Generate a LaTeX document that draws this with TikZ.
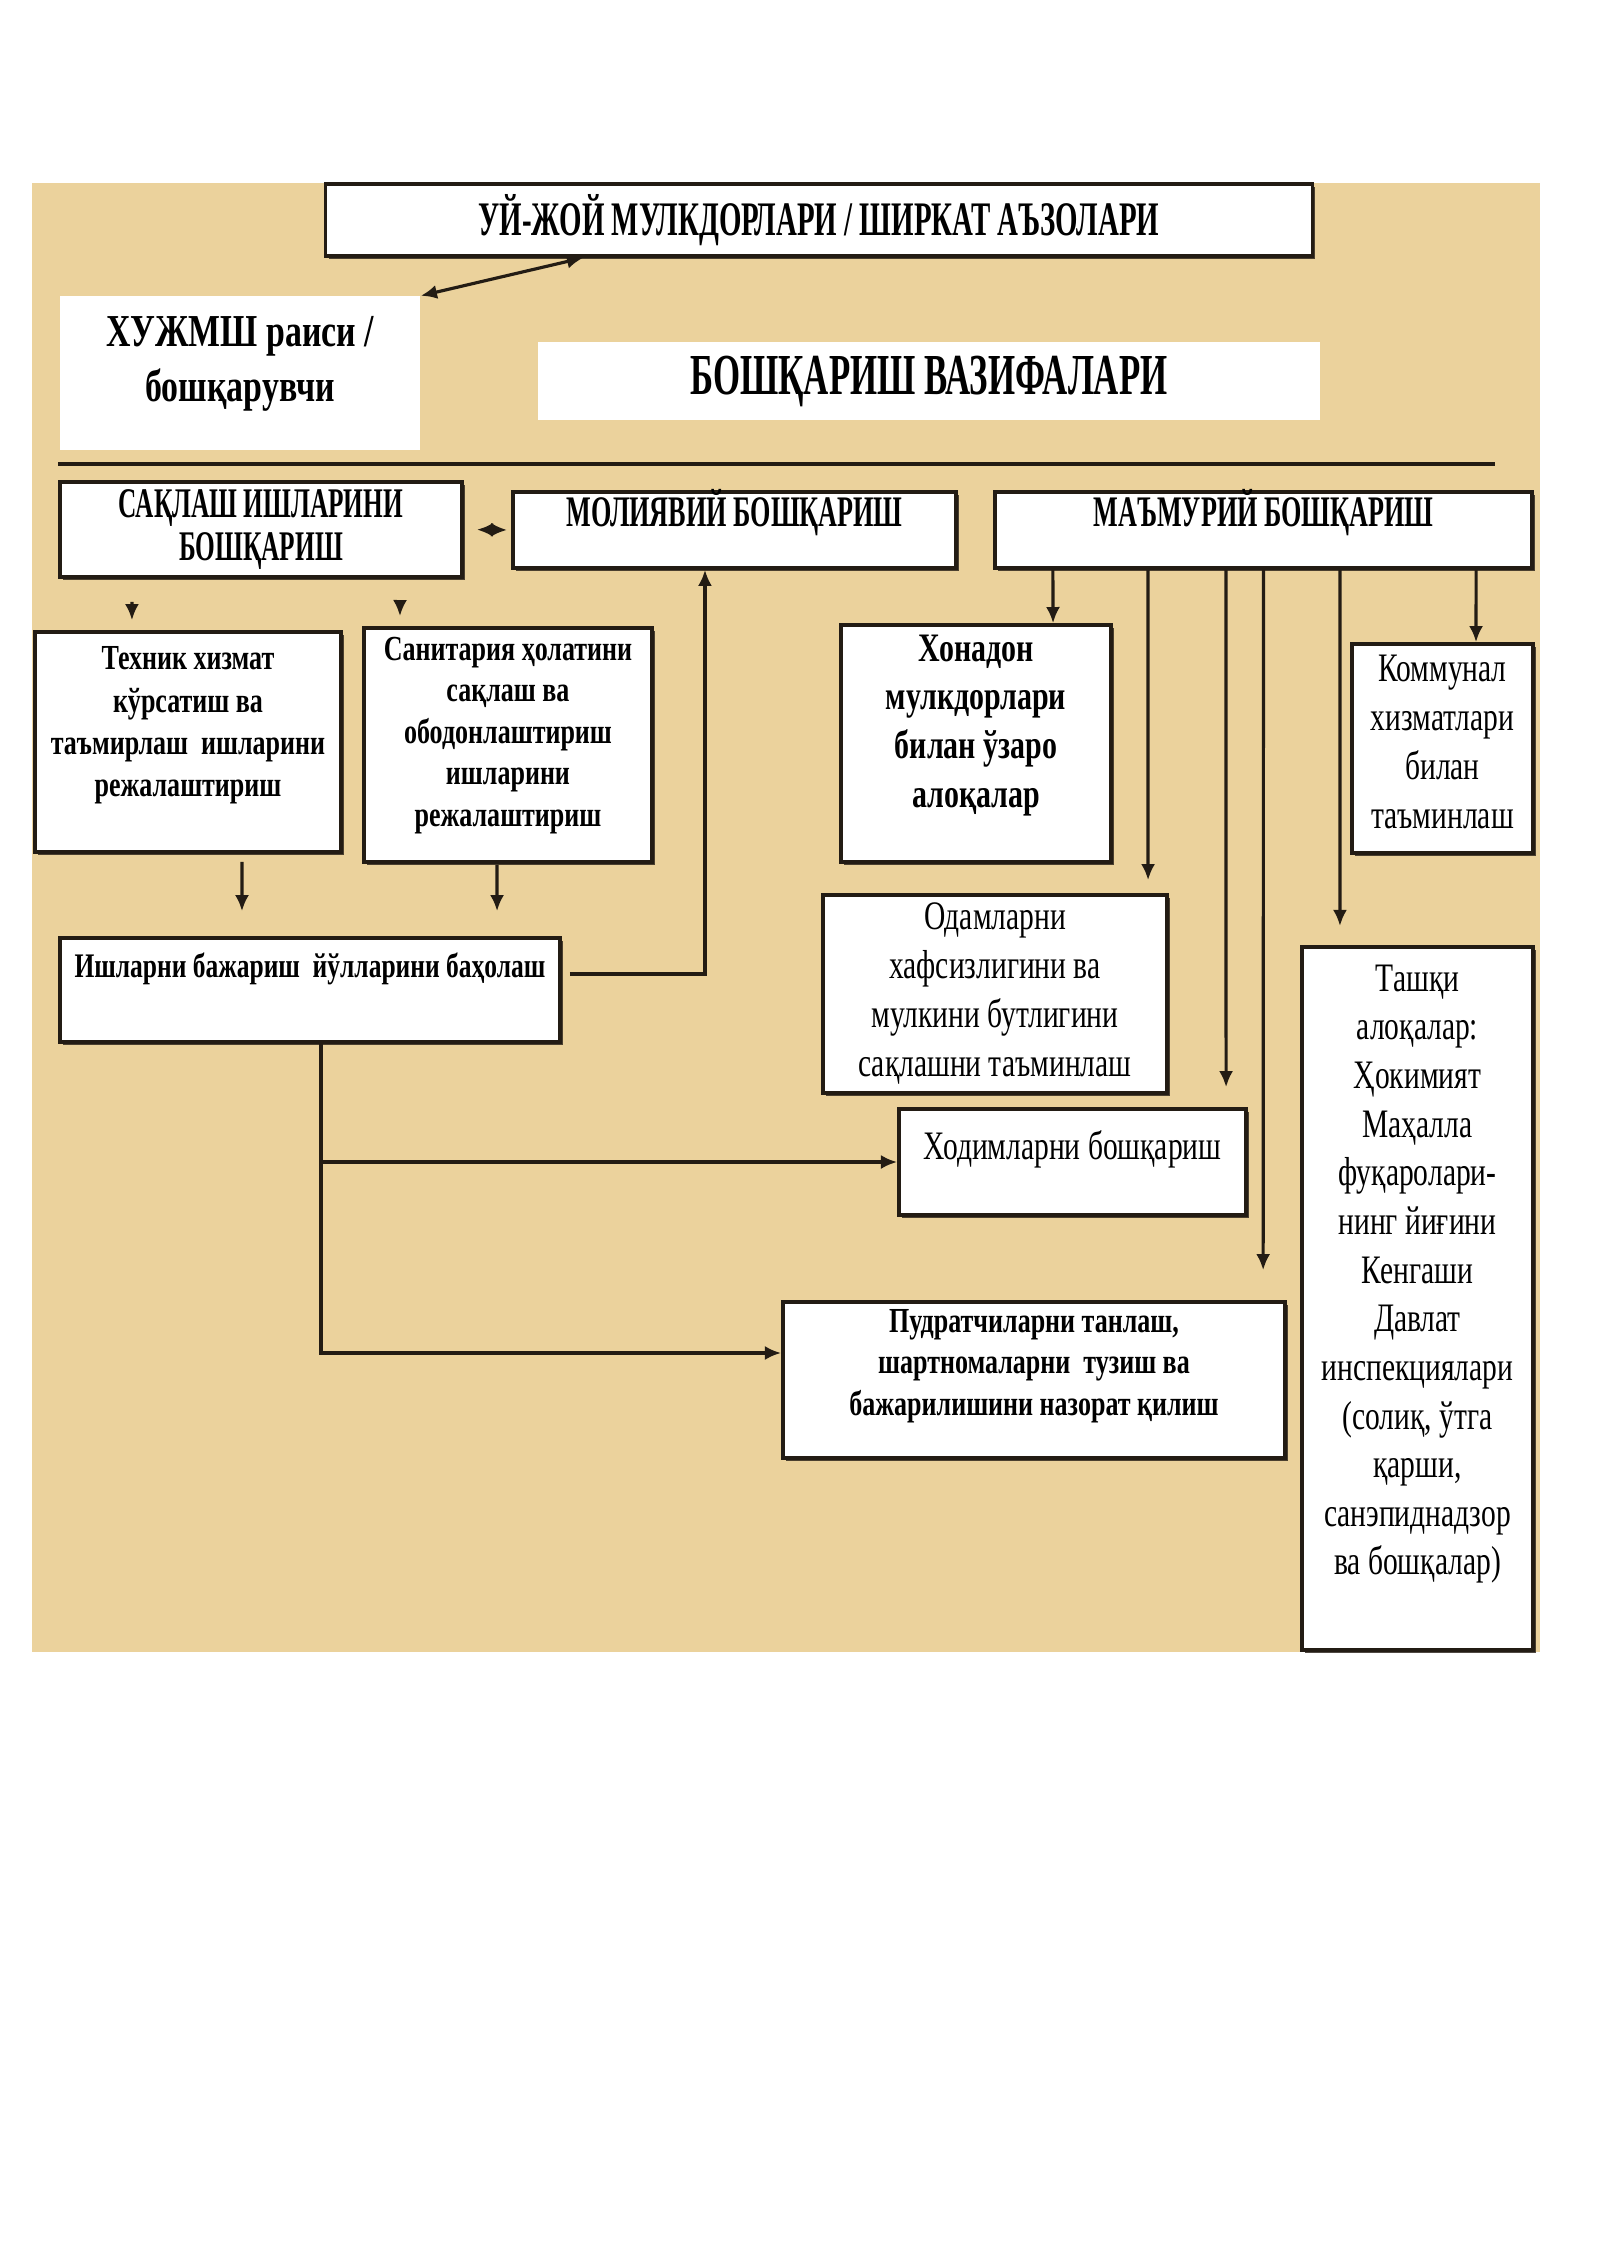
\documentclass[tikz,border=0pt]{standalone}
\usepackage{fontspec}
\setmainfont{Liberation Serif}
\newfontfamily\cyrcaps{Liberation Serif}[FakeStretch=0.6]
\newfontfamily\cyrbold{Liberation Serif}[FakeStretch=0.74]
\newfontfamily\cyrplain{Liberation Serif}[FakeStretch=0.73]
\usetikzlibrary{arrows.meta,shadows}

\definecolor{paper}{RGB}{235,210,156}
\definecolor{ink}{RGB}{35,28,20}

% text of a box, set at its top
\newcommand{\boxtext}[4]{\parbox[c][#2][t]{#1}{\centering\vspace*{#3}#4}}

\tikzset{
  box/.style={draw=ink, line width=1pt, fill=white, inner sep=0pt,
    drop shadow={shadow xshift=0.9pt, shadow yshift=-0.9pt, fill=ink, opacity=0.8}},
  plate/.style={fill=white, inner sep=0pt},
  link/.style={draw=ink, line width=0.9pt},
  arr/.style={link, -{Latex[length=4.6pt,width=4pt]}},
  twoway/.style={link, {Latex[length=4.6pt,width=4pt]}-{Latex[length=4.6pt,width=4pt]}},
}

\begin{document}
\begin{tikzpicture}[x=0.01cm, y=-0.01cm]
  \useasboundingbox (0,0) rectangle (1600,2262);
  \fill[paper] (32,183) rectangle (1540,1652);

  % top
  \node[box, minimum width=9.86cm, minimum height=0.72cm,
    font=\cyrcaps\bfseries\fontsize{13.7}{16}\selectfont] (owners) at (819,220)
    {УЙ-ЖОЙ МУЛКДОРЛАРИ / ШИРКАТ АЪЗОЛАРИ};
  \node[plate, font=\cyrbold\bfseries\fontsize{13}{15.6}\selectfont] (chair) at (240,373)
    {\boxtext{3.6cm}{1.53cm}{0.2cm}{ХУЖМШ раиси /\\бошқарувчи}};
  \node[plate, minimum width=7.82cm, minimum height=0.78cm,
    font=\cyrcaps\bfseries\fontsize{16.5}{19}\selectfont] (tasks) at (929,381)
    {БОШҚАРИШ ВАЗИФАЛАРИ};
  \draw[line width=1.4pt, ink] (58,464) -- (1495,464);

  % three branches
  \node[box, minimum width=4.02cm, minimum height=0.95cm, align=center,
    font=\cyrcaps\bfseries\fontsize{12}{12.5}\selectfont] (keep) at (261,529.5)
    {САҚЛАШ ИШЛАРИНИ\\БОШҚАРИШ};
  \node[box, font=\cyrcaps\bfseries\fontsize{12.4}{13}\selectfont] (fin) at (734.5,530)
    {\boxtext{4.43cm}{0.76cm}{-0.03cm}{МОЛИЯВИЙ БОШҚАРИШ}};
  \node[box, font=\cyrcaps\bfseries\fontsize{12.4}{13}\selectfont] (adm) at (1263.5,530)
    {\boxtext{5.37cm}{0.76cm}{-0.03cm}{МАЪМУРИЙ БОШҚАРИШ}};

  % left side
  \node[box, font=\cyrbold\bfseries\fontsize{10}{11.95}\selectfont] (tech) at (188,742)
    {\boxtext{3.06cm}{2.2cm}{0.15cm}{Техник хизмат\\кўрсатиш ва\\таъмирлаш\ \ ишларини\\режалаштириш}};
  \node[box, font=\cyrbold\bfseries\fontsize{10}{11.8}\selectfont] (san) at (508,745)
    {\boxtext{2.88cm}{2.34cm}{0.09cm}{Санитария ҳолатини\\сақлаш ва\\ободонлаштириш\\ишларини\\режалаштириш}};
  \node[box, font=\cyrbold\bfseries\fontsize{9.8}{11.95}\selectfont] (work) at (310,990)
    {\boxtext{5cm}{1.04cm}{0.15cm}{Ишларни бажариш\ \ йўлларини баҳолаш}};

  % right side
  \node[box, font=\cyrbold\bfseries\fontsize{11.5}{13.8}\selectfont] (home) at (976,743.5)
    {\boxtext{2.7cm}{2.37cm}{0.1cm}{Хонадон\\мулкдорлари\\билан ўзаро\\алоқалар}};
  \node[box, font=\cyrplain\fontsize{11.5}{13.9}\selectfont] (comm) at (1442.5,748.5)
    {\boxtext{1.81cm}{2.09cm}{0.11cm}{Коммунал\\хизматлари\\билан\\таъминлаш}};
  \node[box, font=\cyrplain\fontsize{11.5}{13.9}\selectfont] (safe) at (995,994)
    {\boxtext{3.44cm}{1.98cm}{0.08cm}{Одамларни\\хафсизлигини ва\\мулкини бутлигини\\сақлашни таъминлаш}};
  \node[box, font=\cyrplain\fontsize{11.5}{13.9}\selectfont] (staff) at (1072.5,1162)
    {\boxtext{3.47cm}{1.06cm}{0.22cm}{Ходимларни бошқариш}};
  \node[box, font=\cyrbold\bfseries\fontsize{10}{11.8}\selectfont] (contr) at (1034,1380)
    {\boxtext{5.02cm}{1.56cm}{0.07cm}{Пудратчиларни танлаш,\\шартномаларни\ \ тузиш ва\\бажарилишини назорат қилиш}};
  \node[box, font=\cyrplain\fontsize{11.5}{13.83}\selectfont] (ext) at (1417.5,1298.5)
    {\boxtext{2.31cm}{7.03cm}{0.18cm}{Ташқи\\алоқалар:\\Ҳокимият\\Маҳалла\\фуқаролари-\\нинг йиғини\\Кенгаши\\Давлат\\инспекциялари\\(солиқ, ўтга\\қарши,\\санэпиднадзор\\ва бошқалар)}};

  % connectors
  \draw[twoway] (chair.north east) -- ([xshift=2.59cm]owners.south west);
  \draw[twoway, shorten <=0.13cm, shorten >=0.04cm] (keep.east) -- (fin.west);
  \foreach \dx/\target/\tx in {-1.29/tech/-0.56, 1.39/san/-1.08}
    \draw[arr, shorten <=0.23cm, shorten >=0.1cm] ([xshift=\dx cm]keep.south) -- ([xshift=\tx cm]\target.north);
  \draw[arr, shorten <=0.08cm, shorten >=0.25cm] ([xshift=0.54cm]tech.south) -- ([xshift=-0.68cm]work.north);
  \draw[arr, shorten <=0.01cm, shorten >=0.25cm] ([xshift=-0.11cm]san.south) -- ([xshift=1.87cm]work.north);
  \draw[arr, shorten <=0.08cm] ([yshift=0.16cm]work.east) -| ([xshift=-0.295cm]fin.south);
  \draw[arr] ([xshift=0.11cm]work.south) |- (staff.west);
  \draw[arr] ([xshift=0.11cm]work.south) |- ([yshift=0.27cm]contr.west);
  \foreach \dx/\target/\tx/\gap in {-2.105/home/0.77/0, -1.155/safe/1.53/0.13, -0.375/staff/1.535/0.2,
      0/contr/2.29/0.3, 0.765/ext/-0.775/0.19, 2.125/comm/0.335/0}
    \draw[arr, shorten >=\gap cm] ([xshift=\dx cm]adm.south) -- ([xshift=\tx cm]\target.north);
\end{tikzpicture}
\end{document}
